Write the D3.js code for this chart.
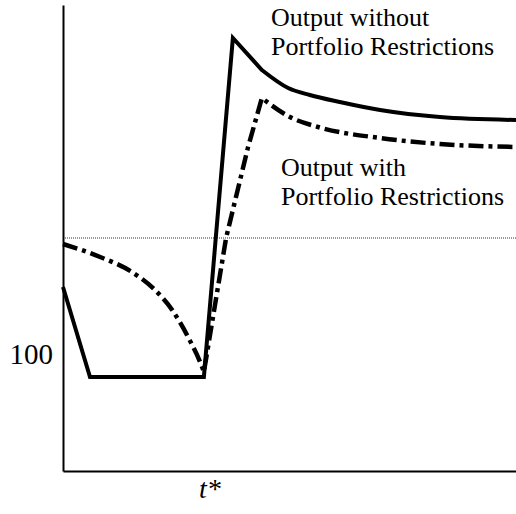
<!DOCTYPE html>
<html>
<head>
<meta charset="utf-8">
<script src="https://cdn.jsdelivr.net/npm/d3@7/dist/d3.min.js"></script>
<style>
  html, body { margin: 0; padding: 0; background: #fff; }
  svg { display: block; }
  text { font-family: "Liberation Serif", "Times New Roman", serif; fill: #000; }
</style>
</head>
<body>
<script>
// ---- data ----
// each series is split into segments: [decline, jump, recovery]
const timeNoRestr   = [0, 5.96, 31.1, 37.5, 43.9, 49.7, 54.5, 61.1, 70, 83.2, 100];
const outputNoRestr = [126.8, 90.8, 90.8, 226.4, 213.6, 206.4, 203.6, 200.8, 197.6, 194.8, 193.6];
const segNoRestr = [[0, 4, "linear"], [4, 10, "smooth"]];

const timeRestr   = [0, 8.2, 15.2, 20.3, 24.1, 27.6, 30.7, 31.1, 36, 40.8, 43.9, 50.1, 56.3, 70, 83.2, 100];
const outputRestr = [144, 138.8, 132.8, 125.6, 117.6, 106.8, 94.8, 92.8, 146.4, 182.4, 202.4, 194.8, 190.8, 186.4, 184, 182.8];
const segRestr = [[0, 7, "smooth"], [7, 10, "linear"], [10, 15, "smooth"]];

const referenceLevel = 146.4;
const yTickValues = [100];
const yTickLabels = ["100"];
const tStar = 32.3;
const xTickLabels = ["t*"];

const labelNoRestr = ["Output without", "Portfolio Restrictions"];
const labelRestr   = ["Output with", "Portfolio Restrictions"];

// ---- layout ----
const W = 516, H = 514;
const svg = d3.select("body").append("svg").attr("width", W).attr("height", H);

const x = d3.scaleLinear().domain([0, 100]).range([63, 516]);
const y = d3.scaleLinear().domain([53.2, 239.6]).range([471, 5]);

// dotted reference line
svg.append("line")
  .attr("x1", x(0)).attr("x2", x(100))
  .attr("y1", y(referenceLevel)).attr("y2", y(referenceLevel))
  .attr("stroke", "#333").attr("stroke-width", 1).attr("stroke-dasharray", "1,1");

// axes
const yAxis = d3.axisLeft(y).tickValues(yTickValues).tickFormat((d, i) => yTickLabels[i])
  .tickSizeInner(0).tickSizeOuter(0).tickPadding(10);
const gy = svg.append("g").attr("transform", `translate(${x(0)},0)`).call(yAxis);

const xAxis = d3.axisBottom(x).tickValues([tStar]).tickFormat((d, i) => xTickLabels[i])
  .tickSizeInner(0).tickSizeOuter(0).tickPadding(7);
const gx = svg.append("g").attr("transform", `translate(0,${y.range()[0]})`).call(xAxis);

[gy, gx].forEach(g => {
  g.select(".domain").attr("stroke", "#000").attr("stroke-width", 2);
  g.selectAll("text").style("font-family", '"Liberation Serif", "Times New Roman", serif')
    .attr("fill", "#000");
});
gy.selectAll("text").style("font-size", "29px");
gx.selectAll("text").style("font-size", "28px").style("font-style", "italic");

// lines built from segments
const lineLinear = d3.line().x(d => x(d[0])).y(d => y(d[1])).curve(d3.curveLinear);
const lineSmooth = d3.line().x(d => x(d[0])).y(d => y(d[1])).curve(d3.curveMonotoneX);

function pathFor(ts, vs, segs) {
  const pts = ts.map((t, i) => [t, vs[i]]);
  let d = "";
  segs.forEach(([a, b, kind], k) => {
    const s = (kind === "smooth" ? lineSmooth : lineLinear)(pts.slice(a, b + 1));
    d += k === 0 ? s : s.replace(/^M[^LCZ]*/, "");
  });
  return d;
}

svg.append("path")
  .attr("d", pathFor(timeRestr, outputRestr, segRestr))
  .attr("fill", "none").attr("stroke", "#000").attr("stroke-width", 4.5)
  .attr("stroke-dasharray", "15,5,4,5").attr("stroke-linejoin", "miter");

svg.append("path")
  .attr("d", pathFor(timeNoRestr, outputNoRestr, segNoRestr))
  .attr("fill", "none").attr("stroke", "#000").attr("stroke-width", 4)
  .attr("stroke-linejoin", "miter");

// annotations
function addLabel(lines, x0, y0) {
  const t = svg.append("text").attr("x", x0).attr("y", y0).style("font-size", "26px");
  lines.forEach((s, i) => t.append("tspan").attr("x", x0).attr("dy", i === 0 ? 0 : 29).text(s));
}
addLabel(labelNoRestr, 271, 26);
addLabel(labelRestr, 281, 176);
</script>
</body>
</html>
